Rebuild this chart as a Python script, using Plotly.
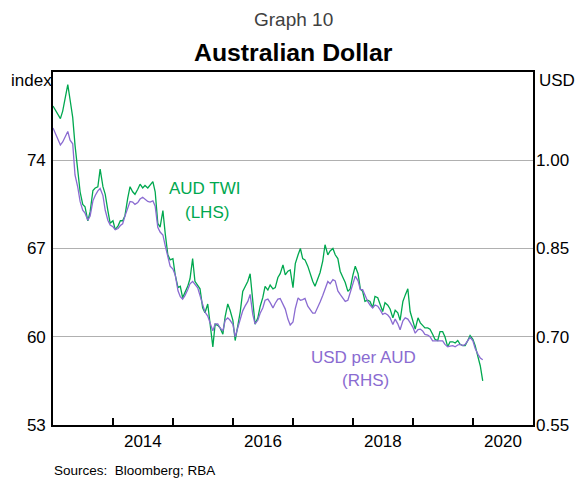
import pandas as pd
import plotly.graph_objects as go

# -----------------------------------------------------------------------------
# DATA (semi-monthly readings, Jan 2013 - Mar 2020)
# -----------------------------------------------------------------------------
dates = pd.date_range("2013-01-01", periods=173, freq="SMS")

twi = [
    78.3, 78.0, 77.6, 77.3, 77.9, 78.9, 80.0, 78.8, 77.4, 75.2,
    73.2, 71.5, 70.5, 70.3, 69.2, 69.9, 71.6, 71.8, 71.9, 73.3,
    71.9, 71.3, 70.0, 69.0, 69.2, 68.5, 68.8, 69.2, 69.2, 69.6,
    71.0, 71.9, 71.5, 71.3, 71.7, 72.1, 71.8, 72.0, 71.8, 72.0,
    72.3, 71.5, 69.0, 68.7, 70.0, 68.2, 66.5, 66.1, 66.2, 64.9,
    63.9, 64.0, 63.1, 63.5, 64.0, 64.6, 66.2, 64.4, 64.1, 63.8,
    62.3, 61.9, 62.6, 61.1, 59.2, 61.0, 60.9, 60.7, 60.2, 61.6,
    62.6, 62.1, 61.3, 59.7, 61.0, 62.0, 63.6, 64.0, 64.4, 65.0,
    62.5, 61.0, 61.5, 62.4, 63.1, 64.0, 63.7, 64.1, 63.8, 63.9,
    64.7, 65.0, 65.7, 64.9, 65.2, 65.3, 63.9, 65.8, 66.5, 67.0,
    66.2, 66.1, 65.6, 65.0, 64.4, 64.0, 64.6, 65.1, 66.0, 67.3,
    66.5, 66.8, 67.0, 66.5, 66.2, 65.2, 64.7, 64.3, 63.6, 63.8,
    64.9, 65.6, 65.0, 63.8, 63.6, 62.8, 62.9, 62.8, 62.3, 63.2,
    63.1, 62.6, 62.0, 62.7, 62.5, 62.2, 61.5, 62.1, 61.9, 61.3,
    62.8, 63.3, 63.8, 62.0, 61.3, 60.6, 61.5, 61.1, 60.9, 60.7,
    60.7, 60.6, 60.2, 59.8, 59.7, 60.4, 60.4, 60.0, 59.2, 59.6,
    59.6, 59.5, 59.7, 59.4, 59.3, 59.3, 59.7, 60.1, 59.8, 59.3,
    58.4, 57.7, 56.5,
]

usd = [
    1.055, 1.045, 1.033, 1.026, 1.031, 1.040, 1.049, 1.034, 1.028, 0.975,
    0.954, 0.930, 0.915, 0.910, 0.898, 0.905, 0.931, 0.940, 0.948, 0.952,
    0.940, 0.915, 0.898, 0.890, 0.887, 0.882, 0.884, 0.889, 0.892, 0.905,
    0.920, 0.930, 0.929, 0.925, 0.928, 0.934, 0.937, 0.934, 0.930, 0.929,
    0.931, 0.922, 0.886, 0.878, 0.873, 0.855, 0.836, 0.820, 0.815, 0.805,
    0.778, 0.768, 0.764, 0.770, 0.780, 0.790, 0.794, 0.788, 0.783, 0.770,
    0.755, 0.742, 0.735, 0.724, 0.710, 0.722, 0.722, 0.715, 0.710, 0.728,
    0.732, 0.728, 0.721, 0.700, 0.716, 0.727, 0.744, 0.752, 0.760, 0.772,
    0.738, 0.722, 0.728, 0.740, 0.749, 0.762, 0.764, 0.758, 0.749, 0.757,
    0.764, 0.765, 0.755, 0.747, 0.730, 0.720, 0.725, 0.748, 0.766, 0.762,
    0.763, 0.765, 0.752, 0.746, 0.740, 0.740, 0.749, 0.759, 0.770, 0.782,
    0.794, 0.790, 0.797, 0.795, 0.778, 0.772, 0.766, 0.760, 0.762, 0.775,
    0.789, 0.803, 0.795, 0.780, 0.780, 0.770, 0.760, 0.754, 0.749, 0.754,
    0.752, 0.746, 0.738, 0.740, 0.737, 0.732, 0.721, 0.730, 0.722, 0.712,
    0.727, 0.732, 0.730, 0.724, 0.716, 0.706, 0.712, 0.713, 0.710, 0.704,
    0.703, 0.700, 0.693, 0.693, 0.693, 0.693, 0.693, 0.687, 0.683, 0.684,
    0.685, 0.683, 0.686, 0.687, 0.685, 0.687, 0.694, 0.699, 0.693, 0.680,
    0.670, 0.664, 0.661,
]

year_ticks = ["2013-01-01", "2014-01-01", "2015-01-01", "2016-01-01", "2017-01-01",
              "2018-01-01", "2019-01-01", "2020-01-01", "2021-01-01"]
label_dates = ["2014-07-02", "2016-07-02", "2018-07-02", "2020-07-02"]
label_text = ["2014", "2016", "2018", "2020"]

lhs_ticks = [53, 60, 67, 74]
rhs_ticks = [0.55, 0.70, 0.85, 1.00]

# -----------------------------------------------------------------------------
# STYLE
# -----------------------------------------------------------------------------
FONT = "Liberation Sans, Arial, sans-serif"
GREEN = "#00a84f"
PURPLE = "#8a6bd1"
GRID = "#b0b0b0"

fig = go.Figure()

fig.add_trace(go.Scatter(
    x=dates, y=usd, name="USD per AUD", yaxis="y2",
    mode="lines", line=dict(color=PURPLE, width=1.3),
))
fig.add_trace(go.Scatter(
    x=dates, y=twi, name="AUD TWI", yaxis="y",
    mode="lines", line=dict(color=GREEN, width=1.3),
))

# page has an 8px body margin, so the figure is a bit smaller than the window
fig.update_layout(
    width=577, height=485,
    margin=dict(l=45, r=52, t=64, b=68),
    paper_bgcolor="white", plot_bgcolor="white",
    showlegend=False,
    font=dict(family=FONT, size=17, color="black"),
    xaxis=dict(
        range=["2013-01-01", "2021-01-01"],
        tickmode="array", tickvals=label_dates, ticktext=label_text,
        ticks="inside", ticklen=0,
        minor=dict(tickmode="array", tickvals=year_ticks, ticks="inside",
                   ticklen=7, tickwidth=1.5, tickcolor="black", showgrid=False),
        showgrid=False, zeroline=False,
        showline=True, linecolor="black", linewidth=1.6, mirror=True,
    ),
    yaxis=dict(
        range=[53, 81], tickmode="array", tickvals=lhs_ticks,
        showgrid=True, gridcolor=GRID, gridwidth=1, zeroline=False,
        showline=True, linecolor="black", linewidth=1.6, mirror=True,
        ticks="", ticklabelstandoff=2,
    ),
    yaxis2=dict(
        range=[0.55, 1.15], tickmode="array", tickvals=rhs_ticks, tickformat=".2f",
        overlaying="y", side="right",
        showgrid=False, zeroline=False, showline=False,
        ticks="", ticklabelstandoff=2,
    ),
)

# titles, units, labels, source
notes = [
    dict(text="Graph 10", x=0.5, y=1.148, font=dict(size=19, color="#404040")),
    dict(text="<b>Australian Dollar</b>", x=0.5, y=1.056, font=dict(size=24.8)),
    dict(text="index", x=-0.092, y=0.977, xanchor="left"),
    dict(text="USD", x=1.0077, y=0.977, xanchor="left"),
    dict(text="AUD TWI", x=0.316, y=0.671, font=dict(color=GREEN)),
    dict(text="(LHS)", x=0.321, y=0.603, font=dict(color=GREEN)),
    dict(text="USD per AUD", x=0.647, y=0.190, font=dict(color=PURPLE)),
    dict(text="(RHS)", x=0.651, y=0.125, font=dict(color=PURPLE)),
    dict(text="Sources:  Bloomberg; RBA", x=-0.0027, y=-0.130, xanchor="left",
         font=dict(size=13.5)),
]
for n in notes:
    fig.add_annotation(xref="paper", yref="paper", showarrow=False,
                       xanchor=n.get("xanchor", "center"), yanchor="middle",
                       x=n["x"], y=n["y"], text=n["text"],
                       font=n.get("font", dict(size=17)))

fig.write_html("out.html")
